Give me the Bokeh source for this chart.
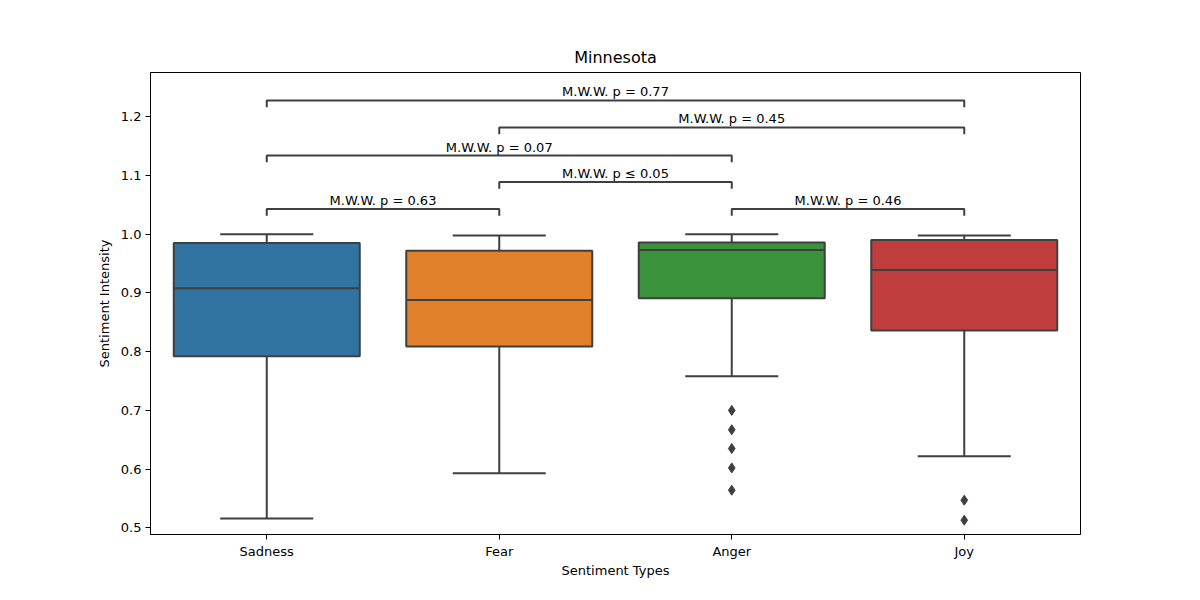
from bokeh.plotting import figure
from bokeh.models import Range1d, FixedTicker, PrintfTickFormatter
from bokeh.core.properties import value
from bokeh.embed import file_html
from bokeh.resources import INLINE

# ---- data ----
categories = ["Sadness", "Fear", "Anger", "Joy"]
box_colors = ["#3274a1", "#e1812c", "#3a923a", "#c03d3e"]
q1 = [0.792, 0.809, 0.891, 0.836]
median = [0.908, 0.888, 0.973, 0.939]
q3 = [0.985, 0.972, 0.986, 0.990]
whisker_low = [0.516, 0.593, 0.758, 0.622]
whisker_high = [1.000, 0.998, 1.000, 0.998]

outlier_cat = ["Anger", "Anger", "Anger", "Anger", "Anger", "Joy", "Joy"]
outlier_val = [0.700, 0.667, 0.635, 0.602, 0.564, 0.547, 0.513]

pair_left = ["Sadness", "Fear", "Anger", "Sadness", "Fear", "Sadness"]
pair_right = ["Fear", "Anger", "Joy", "Anger", "Joy", "Joy"]
pair_height = [1.043, 1.089, 1.043, 1.134, 1.182, 1.228]
pair_label = ["M.W.W. p = 0.63", "M.W.W. p ≤ 0.05", "M.W.W. p = 0.46",
              "M.W.W. p = 0.07", "M.W.W. p = 0.45", "M.W.W. p = 0.77"]

y_ticks = [0.5, 0.6, 0.7, 0.8, 0.9, 1.0, 1.1, 1.2]

FONT = "DejaVu Sans"
EDGE = "#3f3f3f"
LW = 2

idx = {c: i for i, c in enumerate(categories)}
xs = [idx[c] for c in categories]

p = figure(width=1200, height=600, output_backend="svg", toolbar_location=None,
           x_range=Range1d(-0.5, 3.5), y_range=Range1d(0.4886, 1.2755),
           min_border_left=150, min_border_right=120,
           min_border_top=72, min_border_bottom=66,
           title="Minnesota")

p.title.align = "center"
p.title.text_font = FONT
p.title.text_font_size = "16px"
p.title.text_font_style = "normal"
p.title.text_color = "black"
p.title.standoff = 11

p.xgrid.visible = False
p.ygrid.visible = False
p.outline_line_color = "black"
p.outline_line_alpha = 1
p.outline_line_width = 1
p.background_fill_color = "white"
p.border_fill_color = "white"

# boxes
p.vbar(x=xs, width=0.8, bottom=q1, top=q3, fill_color=box_colors,
       line_color=EDGE, line_width=LW)
# medians
p.segment(x0=[x - 0.4 for x in xs], x1=[x + 0.4 for x in xs], y0=median, y1=median,
          line_color=EDGE, line_width=LW)
# whiskers
p.segment(x0=xs, x1=xs, y0=q3, y1=whisker_high, line_color=EDGE, line_width=LW)
p.segment(x0=xs, x1=xs, y0=q1, y1=whisker_low, line_color=EDGE, line_width=LW)
# caps
p.segment(x0=[x - 0.2 for x in xs], x1=[x + 0.2 for x in xs], y0=whisker_high, y1=whisker_high,
          line_color=EDGE, line_width=LW)
p.segment(x0=[x - 0.2 for x in xs], x1=[x + 0.2 for x in xs], y0=whisker_low, y1=whisker_low,
          line_color=EDGE, line_width=LW)
# outliers
p.scatter(x=[idx[c] for c in outlier_cat], y=outlier_val, marker="diamond", size=10,
          fill_color=EDGE, line_color=EDGE)

# significance brackets
drop = 0.0115
bx, by = [], []
for l, r, h in zip(pair_left, pair_right, pair_height):
    a, b = idx[l], idx[r]
    bx.append([a, a, b, b])
    by.append([h - drop, h, h, h - drop])
p.multi_line(xs=bx, ys=by, line_color=EDGE, line_width=LW)
p.text(x=[(idx[l] + idx[r]) / 2 for l, r in zip(pair_left, pair_right)], y=pair_height,
       text=pair_label, text_align="center", text_baseline="bottom",
       text_font=value(FONT), text_font_size="13px", text_color="black", y_offset=-1)

# axes
p.xaxis.ticker = FixedTicker(ticks=xs)
p.xaxis.major_label_overrides = {i: c for i, c in enumerate(categories)}
p.yaxis.ticker = FixedTicker(ticks=y_ticks)
p.yaxis.formatter = PrintfTickFormatter(format="%.1f")
p.xaxis.axis_label = "Sentiment Types"
p.yaxis.axis_label = "Sentiment Intensity"
for ax in (p.xaxis, p.yaxis):
    ax.axis_line_color = "black"
    ax.major_tick_line_color = "black"
    ax.major_tick_out = 5
    ax.major_tick_in = 0
    ax.minor_tick_line_color = None
    ax.major_label_text_font = FONT
    ax.major_label_text_font_size = "13px"
    ax.major_label_text_color = "black"
    ax.axis_label_text_font = FONT
    ax.axis_label_text_font_size = "13px"
    ax.axis_label_text_font_style = "normal"
    ax.axis_label_text_color = "black"
    ax.major_label_standoff = 4
p.xaxis.axis_label_standoff = 1
p.yaxis.axis_label_standoff = 6

open("out.html", "w").write(file_html(p, INLINE))
